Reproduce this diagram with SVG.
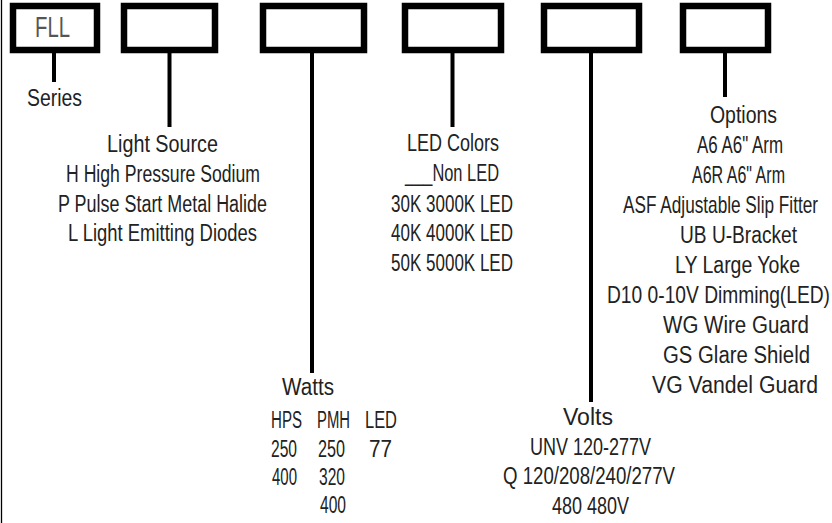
<svg xmlns="http://www.w3.org/2000/svg" width="832" height="523" viewBox="0 0 832 523">
<style>
.box{fill:#fff;stroke:#000;stroke-width:6.5}
.conn{stroke:#000;stroke-width:4;fill:none}
text{font-family:"Liberation Sans",Arial,sans-serif;font-size:23px;fill:#222}
.code{font-size:29px;fill:#555}
</style>
<rect x="0" y="0" width="832" height="523" fill="#fff"/>
<line x1="1.5" y1="0" x2="1.5" y2="523" stroke="#000" stroke-width="1.3"/>
<g id="connectors">
<line class="conn" x1="54" y1="53" x2="54" y2="82"/>
<line class="conn" x1="169.5" y1="53" x2="169.5" y2="127"/>
<line class="conn" x1="312" y1="53" x2="312" y2="373"/>
<line class="conn" x1="452.5" y1="53" x2="452.5" y2="127"/>
<line class="conn" x1="591" y1="53" x2="591" y2="402"/>
<line class="conn" x1="725" y1="53" x2="725" y2="97"/>
</g>
<g id="series">
<rect class="box" x="13" y="6" width="84" height="44"/>
<text class="code" x="35" y="37" textLength="35" lengthAdjust="spacingAndGlyphs">FLL</text>
<text x="27" y="106" textLength="55" lengthAdjust="spacingAndGlyphs">Series</text>
</g>
<g id="light-source">
<rect class="box" x="124" y="6" width="91" height="44"/>
<text x="107" y="152" textLength="111" lengthAdjust="spacingAndGlyphs">Light Source</text>
<text x="66" y="182" textLength="194" lengthAdjust="spacingAndGlyphs">H High Pressure Sodium</text>
<text x="58" y="212" textLength="209" lengthAdjust="spacingAndGlyphs">P Pulse Start Metal Halide</text>
<text x="68" y="241" textLength="189" lengthAdjust="spacingAndGlyphs">L Light Emitting Diodes</text>
</g>
<g id="watts">
<rect class="box" x="263" y="6" width="101" height="44"/>
<text x="282" y="395" textLength="52" lengthAdjust="spacingAndGlyphs">Watts</text>
<text x="271" y="428" textLength="31" lengthAdjust="spacingAndGlyphs">HPS</text>
<text x="317" y="428" textLength="33" lengthAdjust="spacingAndGlyphs">PMH</text>
<text x="365" y="428" textLength="32" lengthAdjust="spacingAndGlyphs">LED</text>
<text x="271" y="457" textLength="26" lengthAdjust="spacingAndGlyphs">250</text>
<text x="318" y="457" textLength="27" lengthAdjust="spacingAndGlyphs">250</text>
<text x="369" y="457" textLength="23" lengthAdjust="spacingAndGlyphs">77</text>
<text x="272" y="485" textLength="25" lengthAdjust="spacingAndGlyphs">400</text>
<text x="319" y="485" textLength="26" lengthAdjust="spacingAndGlyphs">320</text>
<text x="320" y="513" textLength="26" lengthAdjust="spacingAndGlyphs">400</text>
</g>
<g id="led-colors">
<rect class="box" x="405" y="6" width="96" height="44"/>
<text x="407" y="151" textLength="92" lengthAdjust="spacingAndGlyphs">LED Colors</text>
<text x="405" y="181" textLength="94" lengthAdjust="spacingAndGlyphs">___Non LED</text>
<text x="391" y="211.5" textLength="122" lengthAdjust="spacingAndGlyphs">30K 3000K LED</text>
<text x="391" y="241" textLength="122" lengthAdjust="spacingAndGlyphs">40K 4000K LED</text>
<text x="391" y="270.5" textLength="122" lengthAdjust="spacingAndGlyphs">50K 5000K LED</text>
</g>
<g id="volts">
<rect class="box" x="544" y="6" width="95" height="44"/>
<text x="563" y="425" textLength="50" lengthAdjust="spacingAndGlyphs">Volts</text>
<text x="530" y="454.5" textLength="121" lengthAdjust="spacingAndGlyphs">UNV 120-277V</text>
<text x="503" y="484" textLength="172" lengthAdjust="spacingAndGlyphs">Q 120/208/240/277V</text>
<text x="552" y="513.5" textLength="77" lengthAdjust="spacingAndGlyphs">480 480V</text>
</g>
<g id="options">
<rect class="box" x="683" y="6" width="85" height="44"/>
<text x="710" y="123" textLength="67" lengthAdjust="spacingAndGlyphs">Options</text>
<text x="697" y="153" textLength="86" lengthAdjust="spacingAndGlyphs">A6 A6&quot; Arm</text>
<text x="692" y="183" textLength="93" lengthAdjust="spacingAndGlyphs">A6R A6&quot; Arm</text>
<text transform="translate(623,213) scale(0.75,1)" x="0" y="0" textLength="260" lengthAdjust="spacingAndGlyphs">ASF Adjustable Slip Fitter</text>
<text x="680" y="243" textLength="117" lengthAdjust="spacingAndGlyphs">UB U-Bracket</text>
<text x="675" y="273" textLength="125" lengthAdjust="spacingAndGlyphs">LY Large Yoke</text>
<text transform="translate(607,303) scale(0.83,1)" x="0" y="0" textLength="268.7" lengthAdjust="spacingAndGlyphs">D10 0-10V Dimming(LED)</text>
<text x="663" y="333" textLength="146" lengthAdjust="spacingAndGlyphs">WG Wire Guard</text>
<text x="663" y="363" textLength="147" lengthAdjust="spacingAndGlyphs">GS Glare Shield</text>
<text x="652" y="393" textLength="166" lengthAdjust="spacingAndGlyphs">VG Vandel Guard</text>
</g>
</svg>
